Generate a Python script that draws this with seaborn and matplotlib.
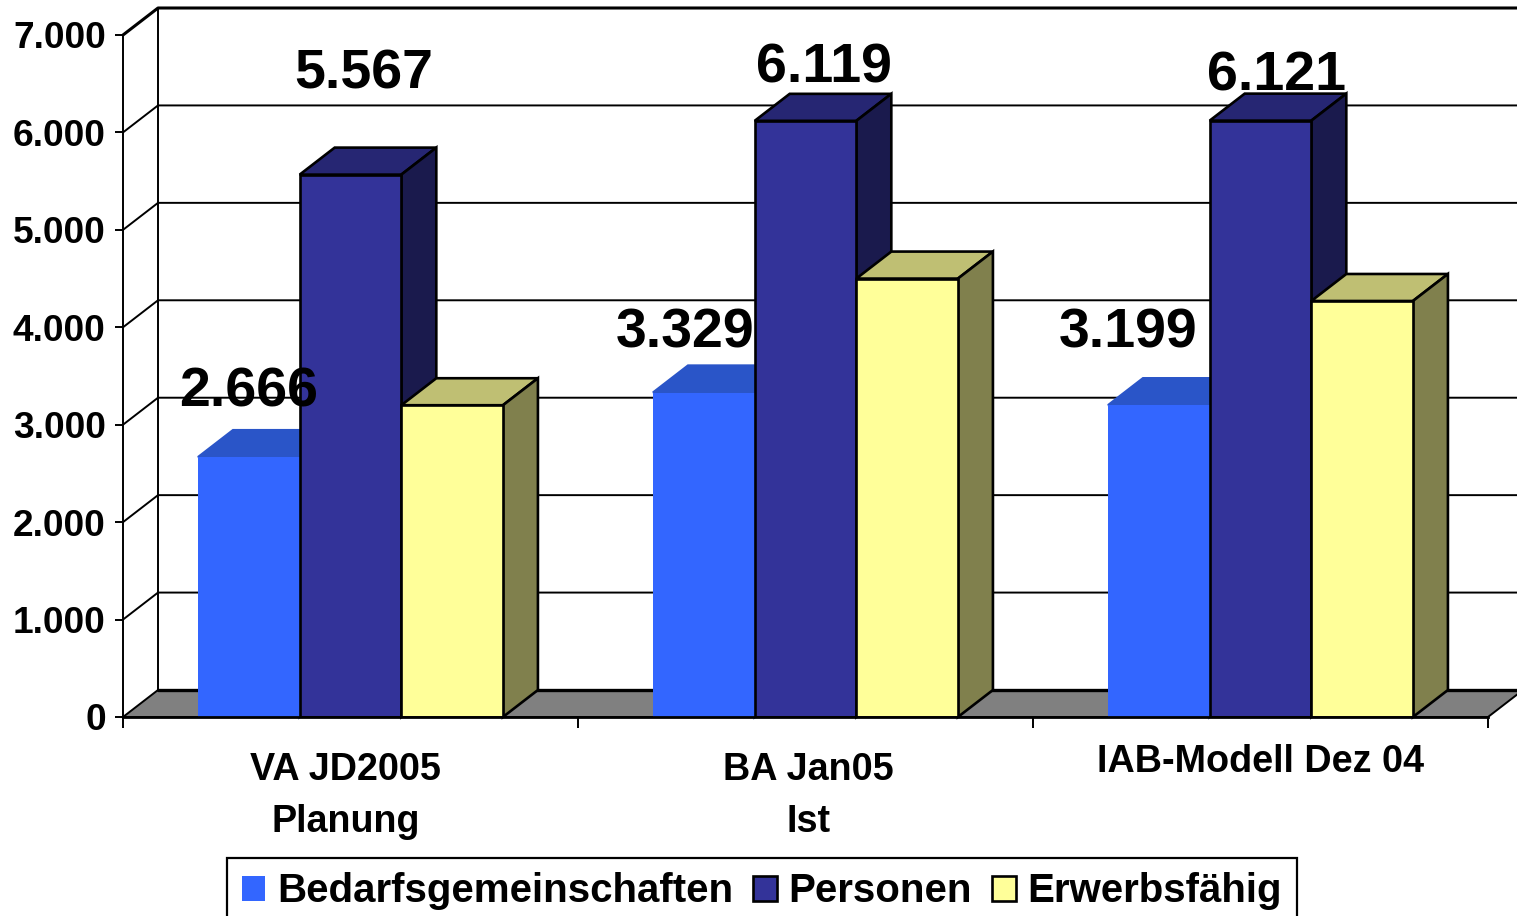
import pandas as pd
import matplotlib.pyplot as plt
import matplotlib.transforms as mtrans
from matplotlib.patches import Polygon
import seaborn as sns

categories = ['VA JD2005\nPlanung', 'BA Jan05\nIst', 'IAB-Modell Dez 04']
series = ['Bedarfsgemeinschaften', 'Personen', 'Erwerbsfähig']
bedarf = [2666, 3329, 3199]
personen = [5567, 6119, 6121]
erwerb = [3200, 4500, 4270]
y_ticks = [0, 1000, 2000, 3000, 4000, 5000, 6000, 7000]

front = ['#3366FF', '#333399', '#FFFF99']
top = ['#2A55C8', '#262673', '#BFBF73']
side = ['#2A55C8', '#1A1A4D', '#80804D']

df = pd.DataFrame({
    'cat': categories * 3,
    'serie': [s for s in series for _ in categories],
    'wert': bedarf + personen + erwerb,
})

sns.set_theme(style='white')
plt.rcParams['font.family'] = ['Liberation Sans', 'DejaVu Sans']
plt.rcParams['font.weight'] = 'bold'
plt.rcParams['text.color'] = 'black'
plt.rcParams['xtick.labelcolor'] = 'black'
plt.rcParams['ytick.labelcolor'] = 'black'

W, H = 1517, 916
fig = plt.figure(figsize=(W / 100, H / 100), dpi=100)
ax = fig.add_axes([123 / W, (H - 717) / H, (1488 - 123) / W, (717 - 35) / H])

sns.barplot(data=df, x='cat', y='wert', hue='serie', palette=front, saturation=1,
            width=0.67, gap=0, edgecolor='black', linewidth=1.9, ax=ax)
ax.set_xlim(-0.5, 2.5)
ax.set_ylim(0, 7000)
ax.set_xlabel('')
ax.set_ylabel('')

# depth of the fake 3d box, 35px right and 27px up
dx = 35 / 455
dy = 27 / (682 / 7000)

# back wall and floor
ax.add_patch(Polygon([(-0.5, 0), (-0.5 + dx, dy), (2.5 + dx, dy), (2.5, 0)], closed=True,
                     facecolor='#808080', edgecolor='black', linewidth=1.4,
                     clip_on=False, zorder=1))
ax.plot([-0.5 + dx, 2.5 + dx], [dy, dy], color='black', lw=2.4, clip_on=False, zorder=1.5)
ax.plot([-0.5 + dx, -0.5 + dx], [dy, 7000 + dy], color='black', lw=1.4, clip_on=False, zorder=1.5)
for t in y_ticks[1:]:
    lw = 2.2 if t == 7000 else 1.4
    ax.plot([-0.5, -0.5 + dx, 2.5 + dx], [t, t + dy, t + dy], color='black', lw=lw,
            clip_on=False, zorder=1.5)

# side and top face for every bar
for i, cont in enumerate(ax.containers):
    for p in cont.patches:
        x0, w, h = p.get_x(), p.get_width(), p.get_height()
        ec = 'black' if i else top[0]
        p.set_zorder(3 + i + 0.5)
        p.set_edgecolor('none' if i == 0 else 'black')
        ax.add_patch(Polygon([(x0, h), (x0 + dx, h + dy), (x0 + w + dx, h + dy), (x0 + w, h)],
                             closed=True, facecolor=top[i], edgecolor=ec,
                             linewidth=1.9, clip_on=False, zorder=3 + i))
        ax.add_patch(Polygon([(x0 + w, 0), (x0 + w + dx, dy), (x0 + w + dx, h + dy), (x0 + w, h)],
                             closed=True, facecolor=side[i], edgecolor=ec,
                             linewidth=1.9, clip_on=False, zorder=3 + i))

# data labels, first two series only, offsets in pixels from the bar top
offs = [[(0, -65), (-19, -59), (-31, -72)], [(13, -100), (18, -52), (16, -44)]]
for i in range(2):
    for p, off in zip(ax.containers[i].patches, offs[i]):
        v = int(p.get_height())
        ax.annotate(f'{v:,}'.replace(',', '.'), (p.get_x() + p.get_width() / 2, v),
                    xytext=(off[0], -off[1]), textcoords='offset pixels',
                    ha='center', va='center', fontsize=40, fontweight='bold',
                    color='black', zorder=10, annotation_clip=False)

# axes
sns.despine(ax=ax, top=True, right=True)
for s in ['left', 'bottom']:
    ax.spines[s].set_color('black')
    ax.spines[s].set_zorder(8)
ax.spines['left'].set_linewidth(1.4)
ax.spines['bottom'].set_linewidth(2)

ax.set_yticks(y_ticks)
ax.set_yticklabels([f'{t:,}'.replace(',', '.') for t in y_ticks], fontsize=26.7, fontweight='bold')
ax.tick_params(axis='y', left=True, length=6, width=1.4, color='black', pad=6.5)
ax.set_xticks([-0.5, 0.5, 1.5, 2.5], minor=True)
ax.tick_params(axis='x', which='minor', bottom=True, length=8, width=1.4, color='black')
ax.tick_params(axis='x', which='major', bottom=False, length=0, pad=25)
ax.set_xticklabels(categories, fontsize=27.2, fontweight='bold', linespacing=1.58)
shifts = [(-5, 0), (3, 0), (0, 8)]
for lab, s in zip(ax.get_xticklabels(), shifts):
    lab.set_transform(lab.get_transform() + mtrans.Affine2D().translate(s[0], s[1]))

handles, labels = ax.get_legend_handles_labels()
leg = ax.legend(handles, labels, ncol=3, loc='upper left',
                bbox_to_anchor=(227 / W, (H - 858) / H), bbox_transform=fig.transFigure,
                borderaxespad=0, frameon=True, fancybox=False,
                edgecolor='black', framealpha=1, handlelength=0.58, handleheight=0.6,
                handletextpad=0.3, columnspacing=0.5, borderpad=0.36,
                prop={'family': 'Liberation Sans', 'weight': 'bold', 'size': 29})
leg.get_frame().set_linewidth(1.6)
leg.set_zorder(12)
leg.legend_handles[0].set_edgecolor('none')

plt.savefig('out.png', dpi=100)
